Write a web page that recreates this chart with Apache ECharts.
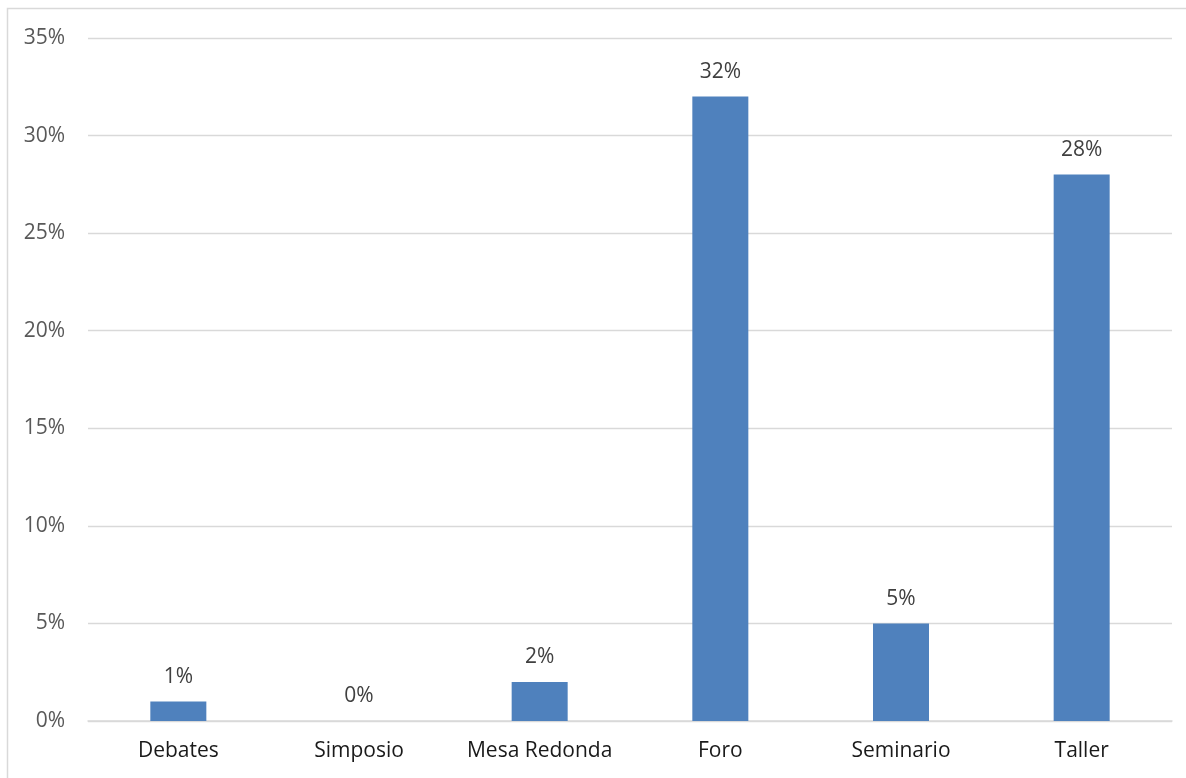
<!DOCTYPE html>
<html>
<head>
<meta charset="utf-8">
<style>
  html, body { margin: 0; padding: 0; background: #ffffff; }
  #chart { width: 1186px; height: 778px; }
</style>
<script src="https://cdn.jsdelivr.net/npm/echarts@6/dist/echarts.min.js"></script>
</head>
<body>
<div id="chart"></div>
<script>
// Share of each activity type (percent)
const categories = ['Debates', 'Simposio', 'Mesa Redonda', 'Foro', 'Seminario', 'Taller'];
const values = [1, 0, 2, 32, 5, 28];
const yTicks = [0, 5, 10, 15, 20, 25, 30, 35];

const chart = echarts.init(document.getElementById('chart'), null, { renderer: 'canvas' });

const fontFamily = '"Open Sans", "Liberation Sans", sans-serif';

chart.setOption({
  animation: false,
  backgroundColor: '#ffffff',
  graphic: [{
    type: 'rect',
    shape: { x: 7.5, y: 8.5, width: 1300, height: 900 },
    style: { fill: 'none', stroke: '#d9d9d9', lineWidth: 1.5 },
    silent: true,
    z: -1
  }],
  grid: { left: 88, right: 14, top: 38, bottom: 57, containLabel: false },
  xAxis: {
    type: 'category',
    data: categories,
    axisLine: { show: true, lineStyle: { color: '#d9d9d9', width: 1.5 } },
    axisTick: { show: false },
    axisLabel: { interval: 0, color: '#1a1a1a', fontSize: 21, fontFamily: fontFamily, margin: 20 }
  },
  yAxis: {
    type: 'value',
    min: yTicks[0],
    max: yTicks[yTicks.length - 1],
    interval: 5,
    axisLine: { show: false },
    axisTick: { show: false },
    splitLine: { lineStyle: { color: '#d9d9d9', width: 1.3 } },
    axisLabel: {
      color: '#595959', fontSize: 21, fontFamily: fontFamily, margin: 23,
      formatter: v => v + '%'
    }
  },
  series: [{
    type: 'bar',
    data: values,
    barWidth: '31%',
    itemStyle: { color: '#4f81bd' },
    label: {
      show: true,
      position: 'top',
      distance: 14,
      color: '#404040',
      fontSize: 21,
      fontFamily: fontFamily,
      formatter: p => p.value + '%'
    }
  }]
});
</script>
</body>
</html>
